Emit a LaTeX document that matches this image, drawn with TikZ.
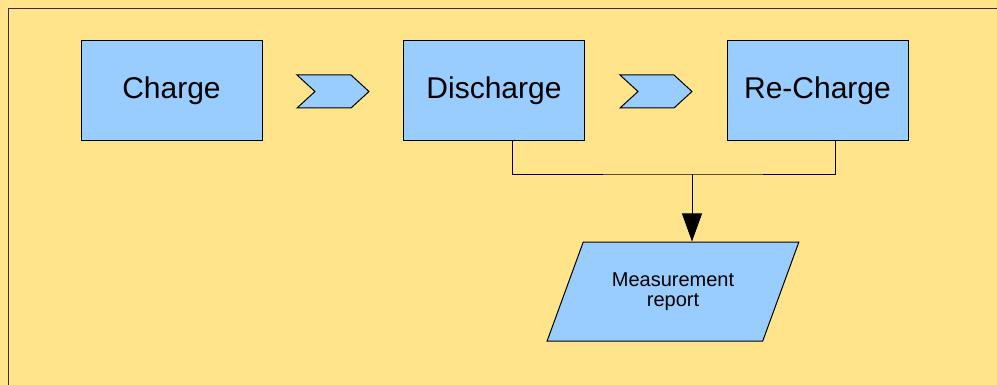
\documentclass[tikz,border=0pt]{standalone}
\usepackage{fontspec}
\setmainfont{Liberation Sans}
\usetikzlibrary{arrows.meta,shapes.geometric,calc}
\definecolor{sheet}{HTML}{FFE48B}
\definecolor{stepblue}{HTML}{99CCFF}
\tikzstyle{phase}=[rectangle,draw,fill=stepblue,line width=0.75pt,minimum width=135.75pt,minimum height=75pt,inner sep=0pt,text height=11.6pt,text depth=0pt,font=\fontsize{22.5}{27}\selectfont]
\tikzstyle{chevron}=[draw,fill=stepblue,line width=0.75pt,line join=miter]
\tikzstyle{wire}=[draw,line width=0.6pt]
\tikzstyle{report}=[trapezium,draw,fill=stepblue,line width=0.75pt,trapezium left angle=57,trapezium right angle=123,trapezium stretches=true,minimum width=189pt,minimum height=74.25pt,inner sep=0pt,align=center,font=\fontsize{15}{15}\selectfont]

\begin{document}
\begin{tikzpicture}[x=0.75pt,y=-0.75pt]
    % sheet and its frame
    \fill[sheet] (0,0) rectangle (997,385);
    \useasboundingbox (0,0) rectangle (997,385);
    \draw[black!80,line width=0.75pt] (8,395) -- (8,9) -- (1005,9);

    % the three test phases
    \foreach \pos/ \name/ \txt in {{(171.5,91)/chg/Charge},{(494,91)/dis/Discharge},{(817.5,91)/rech/Re-Charge}}
        \node[phase] (\name) at \pos {\txt};

    % chevrons between the phases
    \foreach \x in {297,620}
        \draw[chevron] (\x,75) -- ++(54,0) -- ++(18,16.5) -- ++(-18,16.5) -- ++(-54,0) -- ++(18,-16.5) -- cycle;

    % output
    \node[report] (rep) at (673,291.5) {Measurement\\report};

    % collect both results into the report
    \coordinate (junc) at (692,174);
    \path[wire] ([xshift=13.5pt]dis.south) |- (junc) -| ([xshift=13.5pt]rech.south);
    \draw[line width=0.6pt,-{Triangle[length=21pt,width=15pt]}] (junc) -- (rep.north -| junc);
\end{tikzpicture}
\end{document}
